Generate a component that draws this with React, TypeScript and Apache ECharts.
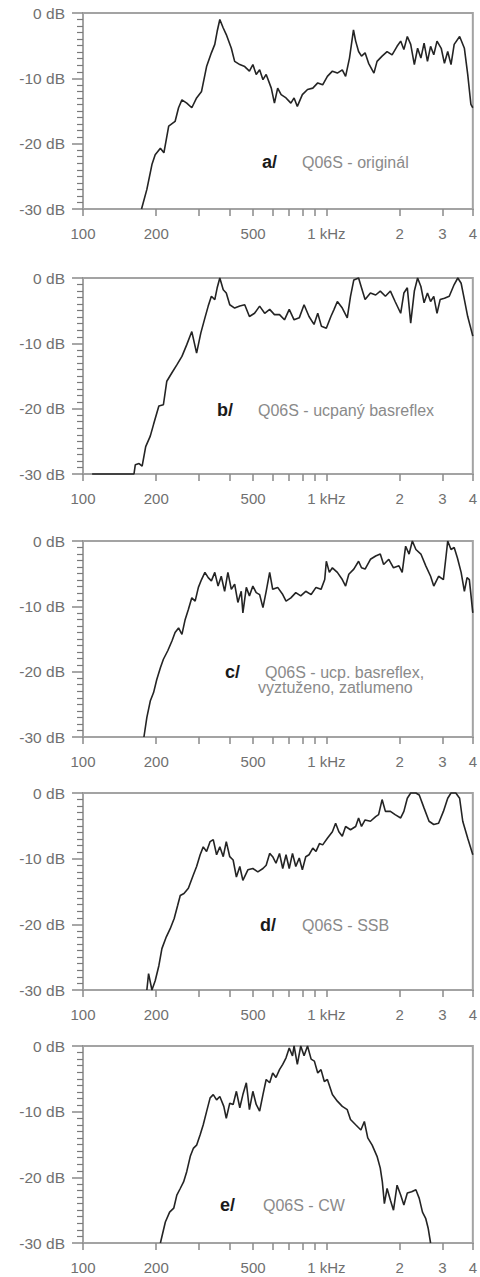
import React, { useEffect, useRef } from "react";
import * as echarts from "echarts";

// ---- data ----
const freqA = [174,183,192,198,208,215,225,239,247,255,267,280,293,307,322,337,348,356,365,377,388,407,420,441,462,483,499,515,532,549,566,594,612,631,652,683,715,737,760,797,837,880,922,966,1010,1059,1110,1163,1200,1245,1293,1320,1357,1395,1443,1492,1569,1616,1695,1777,1863,1953,2021,2083,2152,2222,2300,2372,2447,2522,2604,2682,2764,2850,2966,3058,3154,3254,3353,3530,3693,3811,3928,4000];
const dbA = [-30,-27,-23.2,-21.7,-20.7,-21.4,-17.3,-16.6,-14.5,-13.3,-13.8,-14.5,-13,-12,-8.2,-6.1,-4.8,-2.8,-1,-2.3,-3.3,-5.4,-7.4,-7.9,-8.2,-8.9,-7.9,-9.4,-8.7,-10.2,-9.4,-11.5,-13.8,-11.5,-12.5,-13,-13.8,-13,-14.3,-12.5,-11.7,-11.5,-10.7,-11,-9.7,-8.9,-9.2,-8.7,-9.7,-6.9,-2.6,-4.3,-5.9,-6.6,-6.1,-7.7,-9.2,-7.4,-6.6,-5.9,-6.4,-5.1,-4.3,-5.6,-3.6,-4.8,-7.9,-5.4,-6.9,-4.6,-7.4,-5.1,-6.4,-4.3,-5.4,-7.7,-5.9,-7.9,-4.8,-3.6,-5.4,-9.4,-14,-14.5];

const freqB = [109,162,164,170,175,181,189,195,205,214,221,232,243,255,267,280,293,305,317,327,337,348,356,365,377,388,401,420,441,462,483,507,532,558,585,612,642,673,704,737,774,810,849,890,922,955,1000,1044,1076,1110,1163,1219,1257,1297,1357,1395,1443,1518,1595,1666,1749,1834,1917,2021,2083,2152,2222,2300,2372,2447,2522,2604,2682,2764,2850,2936,3058,3200,3353,3470,3581,3693,3811,4000];
const dbB = [-30,-30,-28.6,-28.4,-28.8,-25.8,-24.2,-22.4,-19.6,-19.4,-15.8,-14.5,-13.3,-12,-10.2,-8.2,-11.5,-8.4,-6.1,-4.3,-2.8,-3.3,-1.5,0,-1.8,-2.3,-4.1,-4.6,-4.3,-4.1,-5.9,-5.4,-4.3,-5.4,-4.8,-5.6,-5.6,-6.4,-4.8,-6.4,-6.1,-4.1,-5.9,-7.1,-5.4,-7.4,-7.7,-5.9,-4.8,-3.6,-4.6,-6.1,-2.8,-0.3,0,-1.5,-3.3,-2.3,-2.6,-2,-2.8,-2,-3.6,-5.4,-2.3,-1.5,-6.9,-2,0,-1.3,-3.8,-2.3,-3.6,-2.8,-5.4,-3.3,-3.1,-2.8,-1,0,-0.8,-3.3,-5.9,-8.9];

const freqC = [178,183,189,195,201,208,214,223,232,239,247,255,263,271,280,289,298,307,317,327,337,348,359,370,382,394,407,420,433,447,454,469,483,499,515,532,549,566,585,602,631,662,683,715,749,785,823,866,907,951,985,1000,1029,1059,1110,1163,1200,1237,1297,1357,1395,1443,1518,1595,1666,1720,1806,1888,1988,2050,2118,2188,2257,2334,2447,2563,2682,2764,2893,3028,3105,3154,3254,3353,3458,3581,3693,3787,3870,4000];
const dbC = [-30,-27,-24.5,-23.2,-21.2,-19.4,-18.1,-16.8,-15.3,-14,-13.3,-14.3,-12,-10.5,-8.7,-9.2,-7.1,-5.9,-4.8,-5.6,-6.1,-4.8,-6.9,-5.4,-7.7,-4.8,-7.4,-6.6,-9.4,-7.7,-11,-7.1,-8.4,-6.9,-7.9,-8.2,-10.2,-7.7,-4.8,-7.4,-7.1,-8.2,-9.2,-8.7,-7.9,-8.4,-7.7,-8.2,-7.1,-7.4,-5.9,-3.1,-4.8,-4.1,-4.8,-5.9,-6.9,-5.1,-4.3,-3.1,-4.1,-4.3,-2.8,-2.3,-2,-3.6,-2.8,-4.1,-3.8,-4.8,-0.8,-2,0,-1.3,-2,-3.8,-5.4,-6.9,-5.4,-5.9,-2.3,0,-1.3,-1,-2.6,-4.8,-7.7,-5.6,-5.9,-11];

const freqD = [183,186,192,198,205,211,220,228,237,245,251,260,271,284,293,303,312,322,333,343,354,365,377,388,401,414,427,441,454,476,499,523,549,566,585,602,621,642,662,683,704,726,749,774,797,823,849,880,907,937,966,1010,1059,1092,1126,1163,1200,1257,1320,1357,1395,1443,1518,1595,1640,1695,1749,1834,1917,2021,2083,2152,2222,2334,2409,2522,2643,2764,2893,3028,3154,3254,3405,3530,3636,3811,4000];
const dbD = [-30,-27.5,-30,-28.6,-26.3,-23.7,-21.9,-20.7,-19.1,-17.1,-15.6,-15.3,-14.5,-12.5,-11.2,-9.4,-8.2,-8.9,-7.4,-7.1,-9.4,-8.2,-9.7,-7.4,-9.7,-10.2,-12.8,-11.2,-13.3,-11.7,-11.5,-12,-11.5,-11,-9.2,-9.7,-10.7,-9.2,-11.5,-9.4,-11.5,-9.2,-11.2,-9.9,-11.7,-9.7,-9.4,-8.4,-8.9,-7.7,-7.9,-6.9,-5.9,-4.6,-5.9,-6.6,-5.1,-5.6,-5.1,-3.8,-5.1,-4.1,-4.3,-3.6,-3.3,-1,-2.8,-2.8,-3.3,-3.8,-2.8,-0.8,0,0,-0.3,-2.3,-4.3,-4.8,-4.6,-2.8,-0.8,0,0,-0.8,-4.3,-6.9,-9.4];

const freqE = [208,218,227,236,243,251,259,267,276,284,293,303,312,322,333,343,354,365,379,388,401,414,427,441,454,469,483,499,515,532,549,566,585,602,621,642,662,683,704,726,737,760,785,810,837,866,893,922,951,981,1010,1059,1110,1163,1219,1257,1320,1387,1433,1480,1543,1616,1666,1699,1732,1777,1834,1888,1953,2021,2083,2152,2241,2334,2409,2484,2563,2623,2682];
const dbE = [-30,-26.8,-25.3,-24.7,-22.7,-21.7,-20.7,-19.1,-16.8,-15.6,-15.1,-13.5,-12,-10,-7.9,-7.4,-8.2,-7.7,-9.2,-11,-8.7,-8.9,-6.9,-9.4,-7.4,-5.6,-9.7,-6.9,-8.9,-9.9,-7.4,-5.1,-5.6,-4.1,-4.8,-3.6,-2.8,-1.8,-0.3,-1.5,0,-2.8,0,-1.5,0,-2,-2.3,-4.1,-3.6,-5.4,-5.1,-7.4,-8.4,-9.2,-9.7,-11.2,-12,-12.8,-11.5,-14,-15.1,-16.8,-18.6,-20.7,-24,-21.7,-23.5,-25,-21.2,-22.7,-24.2,-22.4,-22.2,-21.9,-23.2,-25.3,-26.3,-27.8,-30];

const xTickValues = [100, 200, 300, 400, 500, 600, 700, 800, 900, 1000, 2000, 3000, 4000];
const xLabelValues = [100, 200, 500, 1000, 2000, 3000, 4000];
const xLabelTexts = ["100", "200", "500", "1 kHz", "2", "3", "4"];
const panelLetters = ["a/", "b/", "c/", "d/", "e/"];
const panelCaptions = [
  ["Q06S - originál"],
  ["Q06S - ucpaný basreflex"],
  ["Q06S - ucp. basreflex,", "vyztuženo, zatlumeno"],
  ["Q06S - SSB"],
  ["Q06S - CW"],
];

const panels = [
  [freqA, dbA],
  [freqB, dbB],
  [freqC, dbC],
  [freqD, dbD],
  [freqE, dbE],
];

// ---- layout ----
const gridBoxes = [
  { left: 83, top: 13, height: 196 },
  { left: 83, top: 278, height: 196 },
  { left: 83, top: 541, height: 196 },
  { left: 83, top: 793, height: 197 },
  { left: 83, top: 1046, height: 197 },
];
const PLOT_RIGHT = 475;
const captionPos = [
  { lx: 262, cx: [302], cy: [162] },
  { lx: 217, cx: [258], cy: [410] },
  { lx: 225, cx: [265, 258], cy: [672, 687] },
  { lx: 260, cx: [302], cy: [925] },
  { lx: 220, cx: [263], cy: [1205] },
];

const FONT = "'Liberation Sans', Arial, Helvetica, sans-serif";
const AXIS_COLOR = "#a3a3a3";
const TICK_COLOR = "#8a8a8a";
const LABEL_COLOR = "#707070";

export default function App() {
  const ref = useRef<HTMLDivElement>(null);

  useEffect(() => {
    if (!ref.current) return;
    const chart = echarts.init(ref.current, undefined, { renderer: "svg" });

    const grid = gridBoxes.map((g) => ({
      left: g.left,
      top: g.top,
      width: PLOT_RIGHT - g.left,
      height: g.height,
      show: true,
      borderColor: AXIS_COLOR,
      borderWidth: 2,
      containLabel: false,
    }));

    const xAxis = gridBoxes.map((_, i) => ({
      type: "log",
      logBase: 10,
      gridIndex: i,
      position: "bottom",
      min: 100,
      max: 4000,
      axisLine: { show: true, onZero: false, lineStyle: { color: AXIS_COLOR, width: 2 } },
      axisTick: {
        show: true,
        inside: false,
        customValues: xTickValues,
        length: 7,
        lineStyle: { color: TICK_COLOR, width: 1.5 },
      },
      minorTick: { show: false },
      splitLine: { show: false },
      axisLabel: {
        show: true,
        customValues: xLabelValues,
        margin: 17,
        color: LABEL_COLOR,
        fontSize: 15,
        fontFamily: FONT,
        formatter: (v: number) => {
          const idx = xLabelValues.indexOf(Math.round(v));
          return idx >= 0 ? xLabelTexts[idx] : String(Math.round(v));
        },
      },
      z: 1,
    }));

    const yAxis = gridBoxes.map((_, i) => ({
      type: "value",
      gridIndex: i,
      position: "left",
      min: -30,
      max: 0,
      interval: 10,
      axisLine: { show: true, onZero: false, lineStyle: { color: AXIS_COLOR, width: 2 } },
      axisTick: { show: true, inside: false, length: 11, lineStyle: { color: TICK_COLOR, width: 1.5 } },
      minorTick: { show: true, splitNumber: 10, length: 6, lineStyle: { color: "#7a7a7a", width: 1.2 } },
      splitLine: { show: false },
      minorSplitLine: { show: false },
      axisLabel: {
        show: true,
        margin: 18,
        color: LABEL_COLOR,
        fontSize: 15.5,
        fontFamily: FONT,
        formatter: (v: number) => `${v} dB`,
      },
      z: 1,
    }));

    const series = panels.map(([f, d], i) => ({
      type: "line",
      xAxisIndex: i,
      yAxisIndex: i,
      data: f.slice(0, Math.min(f.length, d.length)).map((fr, k) => [fr, d[k]]),
      symbol: "none",
      lineStyle: { color: "#242424", width: 1.6 },
      clip: false,
      z: 8,
    }));

    const graphic: any[] = [];
    captionPos.forEach((p, i) => {
      graphic.push({
        type: "text",
        x: p.lx,
        y: p.cy[0],
        z: 10,
        style: {
          text: panelLetters[i],
          fill: "#1a1a1a",
          fontSize: 18,
          fontWeight: "bold",
          fontFamily: FONT,
          verticalAlign: "middle",
        },
      });
      panelCaptions[i].forEach((line, j) => {
        graphic.push({
          type: "text",
          x: p.cx[j],
          y: p.cy[j],
          z: 10,
          style: {
            text: line,
            fill: "#8a8a8a",
            fontSize: 16,
            fontFamily: FONT,
            verticalAlign: "middle",
          },
        });
      });
    });

    chart.setOption({
      animation: false,
      backgroundColor: "#ffffff",
      grid,
      xAxis,
      yAxis,
      series,
      graphic,
    } as any);

    return () => chart.dispose();
  }, []);

  return (
    <div
      ref={ref}
      style={{ position: "absolute", left: 0, top: 0, width: 480, height: 1277 }}
    />
  );
}
